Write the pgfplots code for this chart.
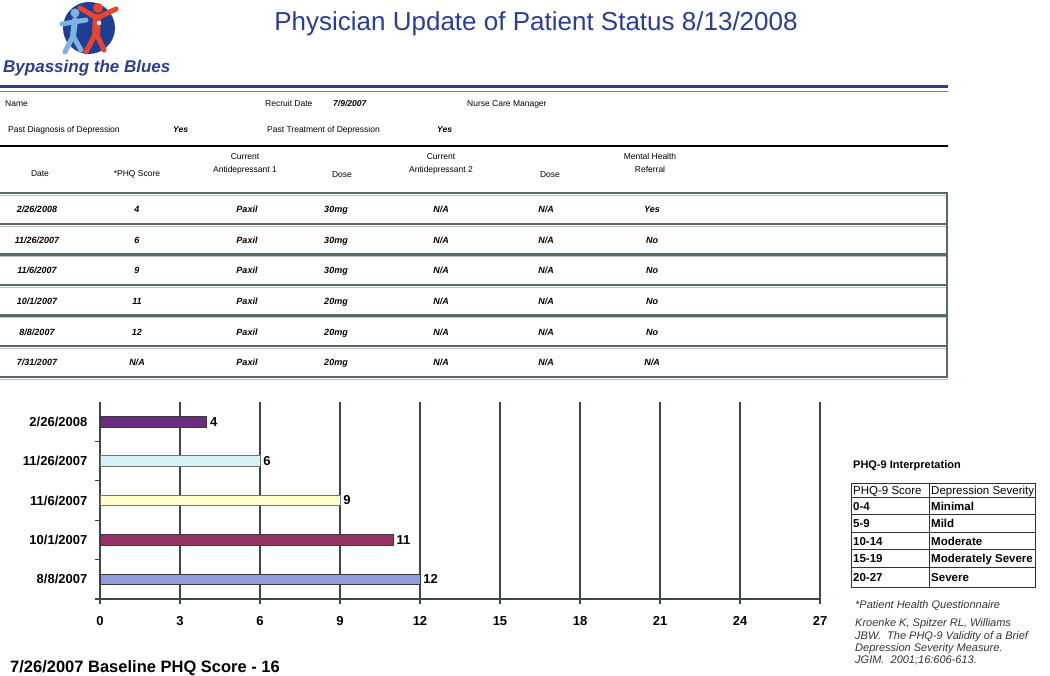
\documentclass[border=0pt]{standalone}
\usepackage{pgfplots}
\pgfplotsset{compat=1.18}
\usepackage{fontspec}
\setmainfont{Liberation Sans}
\newcommand\fs[1]{\fontsize{#1}{#1}\selectfont}
\definecolor{ttl}{HTML}{2A3C9A}
\definecolor{navy}{HTML}{2E3D8F}
\definecolor{axc}{HTML}{3A484E}
\definecolor{sep}{HTML}{56676F}
\definecolor{bdr}{HTML}{3A3A3A}
\definecolor{cA}{HTML}{8F9BDB}
\definecolor{cB}{HTML}{993366}
\definecolor{cC}{HTML}{FFFFCC}
\definecolor{cD}{HTML}{D6F1F6}
\definecolor{cE}{HTML}{6B2D80}
\definecolor{logob}{HTML}{1F3F95}
\definecolor{logol}{HTML}{7FB2E0}
\definecolor{logor}{HTML}{E8452C}
\tikzset{
  info/.style={anchor=base west, inner sep=0pt, font=\fs{8.5}},
  infob/.style={anchor=base west, inner sep=0pt, font=\fs{8.5}\bfseries\itshape},
  hdr/.style={anchor=base, inner sep=0pt, font=\fs{8.5}},
  rowt/.style={anchor=base, inner sep=0pt, font=\fs{9}\bfseries\itshape},
  tbl/.style={anchor=base west, inner sep=0pt, font=\fs{11.5}},
  tblb/.style={anchor=base west, inner sep=0pt, font=\fs{11.5}\bfseries},
  foot/.style={anchor=base west, inner sep=0pt, font=\fs{11}\itshape, text=black!80},
}
\newcommand\trow[5]{%
  \node[rowt] at (37,-#1) {#2};
  \node[rowt] at (137,-#1) {#3};
  \node[rowt] at (247,-#1) {Paxil};
  \node[rowt] at (336,-#1) {#4};
  \node[rowt] at (441,-#1) {N/A};
  \node[rowt] at (546,-#1) {N/A};
  \node[rowt] at (652,-#1) {#5};
}
\begin{document}
\begin{tikzpicture}[x=1pt,y=1pt]
\useasboundingbox (0,0) rectangle (1050,-676);

% ---- logo
\fill[logob] (89,-28) circle (26);
\draw[logol, line width=5pt, line cap=round] (62,-24) -- (86,-20);
\draw[logol, line width=6pt, line cap=round] (75,-20) -- (73,-36);
\draw[logol, line width=5pt, line cap=round] (73,-36) -- (65,-52);
\draw[logol, line width=5pt, line cap=round] (73,-36) -- (81,-50);
\fill[logol] (75,-13) circle (4.5);
\draw[logor, line width=5pt, line cap=round] (80,-8) -- (97,-18) -- (116,-9);
\draw[logor, line width=8pt, line cap=round] (97,-18) -- (96,-33);
\draw[logor, line width=5pt, line cap=round] (96,-33) -- (86,-52);
\draw[logor, line width=5pt, line cap=round] (96,-33) -- (104,-50);
\fill[logor] (98,-8) circle (5);
\fill[white] (99,-23) circle (2.2);
\node[anchor=base west, inner sep=0pt, font=\fs{17}\bfseries\itshape, text=navy] at (3,-73) {Bypassing the Blues};

% ---- title
\node[anchor=base, inner sep=0pt, font=\fs{26}, text=ttl] at (536,-31) {Physician Update of Patient Status 8/13/2008};

% ---- blue double rule
\draw[navy, line width=3pt] (0,-87) -- (948,-87);
\draw[navy!70, line width=1.8pt] (0,-91.5) -- (948,-91.5);

% ---- info
\node[info] at (5,-106.5) {Name};
\node[info] at (265,-106.5) {Recruit Date};
\node[infob] at (333,-106.5) {7/9/2007};
\node[info] at (467,-106.5) {Nurse Care Manager};
\node[info] at (8,-133) {Past Diagnosis of Depression};
\node[infob] at (173,-133) {Yes};
\node[info] at (267,-133) {Past Treatment of Depression};
\node[infob] at (437,-133) {Yes};
\draw[black, line width=2.5pt] (0,-146) -- (948,-146);

% ---- column headers
\node[hdr] at (40,-177) {Date};
\node[hdr] at (137,-177) {*PHQ Score};
\node[hdr] at (245,-160) {Current};
\node[hdr] at (245,-173) {Antidepressant 1};
\node[hdr] at (342,-178) {Dose};
\node[hdr] at (441,-160) {Current};
\node[hdr] at (441,-173) {Antidepressant 2};
\node[hdr] at (550,-178) {Dose};
\node[hdr] at (650,-160) {Mental Health};
\node[hdr] at (650,-173) {Referral};

% ---- row separators
\foreach \yy in {193,224,254.5,285,315.5,346,377}{
  \draw[sep, line width=2.2pt] (0,-\yy) -- (948,-\yy);
  \draw[sep!40, line width=0.8pt] (0,-\yy-2) -- (948,-\yy-2);
}
\draw[sep, line width=1.5pt] (947,-193) -- (947,-377);

% ---- rows
\trow{212.8}{2/26/2008}{4}{30mg}{Yes}
\trow{243.4}{11/26/2007}{6}{30mg}{No}
\trow{274}{11/6/2007}{9}{30mg}{No}
\trow{304.6}{10/1/2007}{11}{20mg}{No}
\trow{335.2}{8/8/2007}{12}{20mg}{No}
\trow{365.8}{7/31/2007}{N/A}{20mg}{N/A}

% ---- chart
\coordinate (axo) at (100,-599);
\begin{axis}[
  at={(axo)}, anchor=south west,
  width=720pt, height=197pt, scale only axis,
  xmin=0, xmax=27, ymin=-0.5, ymax=4.5,
  xtick={0,3,...,27},
  ytick={-0.5,0.5,1.5,2.5,3.5}, yticklabels={,,,,},
  extra y ticks={0,1,2,3,4},
  extra y tick labels={8/8/2007,10/1/2007,11/6/2007,11/26/2007,2/26/2008},
  extra y tick style={tick style={draw=none}},
  axis x line*=bottom, axis y line*=left,
  axis line style={-, draw=axc, line width=1.3pt},
  tick align=outside, major tick length=4.5pt,
  tick style={draw=axc, line width=1.2pt},
  xmajorgrids, grid style={draw=axc, line width=1.3pt},
  xbar, bar width=10.5pt,
  ticklabel style={font=\fs{13}\bfseries, inner sep=0pt},
  xticklabel style={yshift=-13pt},
  yticklabel style={xshift=-8pt},
  /pgf/number format/assume math mode=true,
  nodes near coords, point meta=x,
  nodes near coords style={font=\fs{13}\bfseries, anchor=west, inner sep=3pt},
  clip=false,
]
\addplot[fill=cA, draw=bdr, line width=0.8pt, bar shift=0pt] coordinates {(12,0)};
\addplot[fill=cB, draw=bdr, line width=0.8pt, bar shift=0pt] coordinates {(11,1)};
\addplot[fill=cC, draw=black!55, line width=0.8pt, bar shift=0pt] coordinates {(9,2)};
\addplot[fill=cD, draw=black!55, line width=0.8pt, bar shift=0pt] coordinates {(6,3)};
\addplot[fill=cE, draw=bdr, line width=0.8pt, bar shift=0pt] coordinates {(4,4)};
\end{axis}

% ---- PHQ-9 interpretation
\node[anchor=base west, inner sep=0pt, font=\fs{11}\bfseries] at (853,-468) {PHQ-9 Interpretation};
\draw[black!80, line width=0.9pt] (851,-483) rectangle (1035,-587);
\draw[black!80, line width=0.9pt] (929,-483) -- (929,-587);
\foreach \yy in {497,514.5,532,549.5,567}{
  \draw[black!80, line width=0.9pt] (851,-\yy) -- (1035,-\yy);
}
\node[tbl] at (853,-494) {PHQ-9 Score};
\node[tbl] at (931,-494) {Depression Severity};
\node[tblb] at (853,-510) {0-4};      \node[tblb] at (931,-510) {Minimal};
\node[tblb] at (853,-527.5) {5-9};    \node[tblb] at (931,-527.5) {Mild};
\node[tblb] at (853,-545) {10-14};    \node[tblb] at (931,-545) {Moderate};
\node[tblb] at (853,-562.5) {15-19};  \node[tblb] at (931,-562.5) {Moderately Severe};
\node[tblb] at (853,-581) {20-27};    \node[tblb] at (931,-581) {Severe};

\node[foot] at (855,-608) {*Patient Health Questionnaire};
\node[foot] at (855,-626) {Kroenke K, Spitzer RL, Williams};
\node[foot] at (855,-639) {JBW.\ \ The PHQ-9 Validity of a Brief};
\node[foot] at (855,-651) {Depression Severity Measure.};
\node[foot] at (855,-663) {JGIM.\ \ 2001;16:606-613.};

% ---- baseline
\node[anchor=base west, inner sep=0pt, font=\fs{16.5}\bfseries] at (10,-672) {7/26/2007 Baseline PHQ Score - 16};
\end{tikzpicture}
\end{document}
